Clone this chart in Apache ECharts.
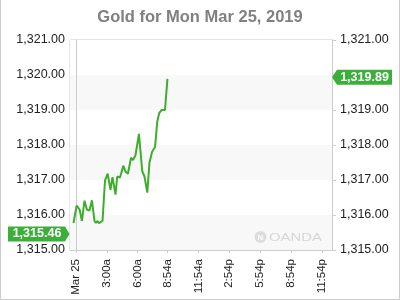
<!DOCTYPE html>
<html>
<head>
<meta charset="utf-8">
<script src="https://cdn.jsdelivr.net/npm/echarts@6/dist/echarts.min.js"></script>
<style>
html,body{margin:0;padding:0;background:#fff;}
#c{width:400px;height:300px;}
</style>
</head>
<body>
<div id="c"></div>
<script>
// ---- data ----
const titleText = 'Gold for Mon Mar 25, 2019';
const hours = [-0.24,0.07,0.36,0.58,0.83,1.07,1.31,1.55,1.80,1.94,2.07,2.24,2.40,2.58,2.82,3.08,3.35,3.55,3.84,4.01,4.28,4.60,4.81,5.05,5.35,5.54,5.78,6.12,6.22,6.44,6.66,6.93,7.14,7.39,7.68,7.90,8.10,8.33,8.65,8.89];
const prices = [1315.77,1316.27,1316.15,1315.83,1316.41,1316.15,1316.13,1316.42,1315.83,1315.77,1315.83,1315.77,1315.75,1315.83,1316.98,1317.18,1316.72,1317.08,1316.58,1317.10,1317.07,1317.41,1317.24,1317.18,1317.64,1317.57,1317.70,1318.32,1318.30,1317.25,1317.10,1316.64,1317.49,1317.80,1317.94,1318.67,1318.92,1319.00,1319.00,1319.89];
const tickHours = [0,3,6,8.9,11.9,14.9,17.9,20.9,23.9];
const tickLabels = ['Mar 25','3:00a','6:00a','8:54a','11:54a','2:54p','5:54p','8:54p','11:54p'];
const yMin = 1315, yMax = 1321, yStep = 1;
const openPrice = 1315.46;
const lastPrice = 1319.89;

const green = '#3dae2b';
function fmt(v){
  const s = Number(v).toFixed(2);
  const parts = s.split('.');
  return parts[0].replace(/\B(?=(\d{3})+(?!\d))/g, ',') + '.' + parts[1];
}
const seriesData = hours.map((h,i)=>[h, prices[i]]);

const chart = echarts.init(document.getElementById('c'), null, {renderer:'canvas'});
const labelFont = {color:'#222', fontSize:12.5, fontFamily:'Liberation Sans, Arial, sans-serif'};
chart.setOption({
  animation:false,
  backgroundColor:'#fff',
  title:{text:titleText, left:'center', top:4,
    textStyle:{color:'#808080', fontSize:16.5, fontWeight:'bold', fontFamily:'Liberation Sans, Arial, sans-serif'}},
  grid:{left:70, right:68, top:40, bottom:50, show:true, borderColor:'#ccc', borderWidth:1, containLabel:false},
  xAxis:{type:'value', min:-0.58, max:24.88,
    axisLine:{show:true, lineStyle:{color:'#ccc'}},
    axisTick:{show:true, length:3, lineStyle:{color:'#ccc'}, customValues:tickHours},
    splitLine:{show:false},
    axisLabel:{rotate:90, margin:9, customValues:tickHours, color:'#222', fontSize:11.5, fontFamily:'Liberation Sans, Arial, sans-serif',
      formatter:function(v){const i = tickHours.findIndex(t=>Math.abs(t-v)<1e-6); return i>=0?tickLabels[i]:'';}}
  },
  yAxis:[
    {type:'value', min:yMin, max:yMax, interval:yStep, position:'left',
      axisLine:{show:true, lineStyle:{color:'#ccc'}},
      axisTick:{show:false},
      splitLine:{show:false},
      splitArea:{show:true, areaStyle:{color:['#f8f8f8','#ffffff']}},
      axisLabel:Object.assign({margin:5, formatter:fmt}, labelFont)},
    {type:'value', min:yMin, max:yMax, interval:yStep, position:'right',
      axisLine:{show:true, lineStyle:{color:'#ccc'}},
      axisTick:{show:true, length:4, lineStyle:{color:'#ccc'}},
      splitLine:{show:false},
      splitArea:{show:false},
      axisLabel:Object.assign({margin:8, formatter:function(v){ return Math.abs(v-lastPrice)<0.5 ? '' : fmt(v); }}, labelFont)}
  ],
  series:[{type:'line', data:seriesData, showSymbol:false, smooth:false,
    lineStyle:{color:green, width:2}, itemStyle:{color:green}}]
});

const yOpen = chart.convertToPixel({yAxisIndex:0}, openPrice);
const yLast = chart.convertToPixel({yAxisIndex:0}, lastPrice) - 1.5;
const h = 7.5;
chart.setOption({graphic:[
  {type:'polygon', shape:{points:[[8,yOpen-h],[65,yOpen-h],[69.5,yOpen],[65,yOpen+h],[8,yOpen+h]]}, style:{fill:'#3cae3a'}, z:100},
  {type:'text', x:37, y:yOpen, style:{text:fmt(openPrice), fill:'#fff', font:'bold 12.5px "Liberation Sans", Arial, sans-serif', align:'center', verticalAlign:'middle'}, z:101},
  {type:'polygon', shape:{points:[[332,yLast],[337,yLast-h],[392,yLast-h],[392,yLast+h],[337,yLast+h]]}, style:{fill:'#3cae3a'}, z:100},
  {type:'text', x:364.5, y:yLast, style:{text:fmt(lastPrice), fill:'#fff', font:'bold 12.5px "Liberation Sans", Arial, sans-serif', align:'center', verticalAlign:'middle'}, z:101},
  {type:'circle', shape:{cx:260.5, cy:237, r:6}, style:{fill:'#dcdcdc'}, z:50},
  {type:'text', x:260.5, y:237.5, style:{text:'N', fill:'#fff', font:'bold 8px "Liberation Sans", Arial, sans-serif', align:'center', verticalAlign:'middle'}, z:51},
  {type:'text', x:269, y:237.5, scaleX:1.35, style:{text:'OANDA', fill:'#d6d6d6', font:'11px "Liberation Sans", Arial, sans-serif', align:'left', verticalAlign:'middle'}, z:50},
  {type:'polyline', shape:{points:[[0.5,0],[0.5,299.5],[399.5,299.5],[399.5,0]]}, style:{stroke:'#ccc', lineWidth:1, fill:null}, z:10}
]});
</script>
</body>
</html>
